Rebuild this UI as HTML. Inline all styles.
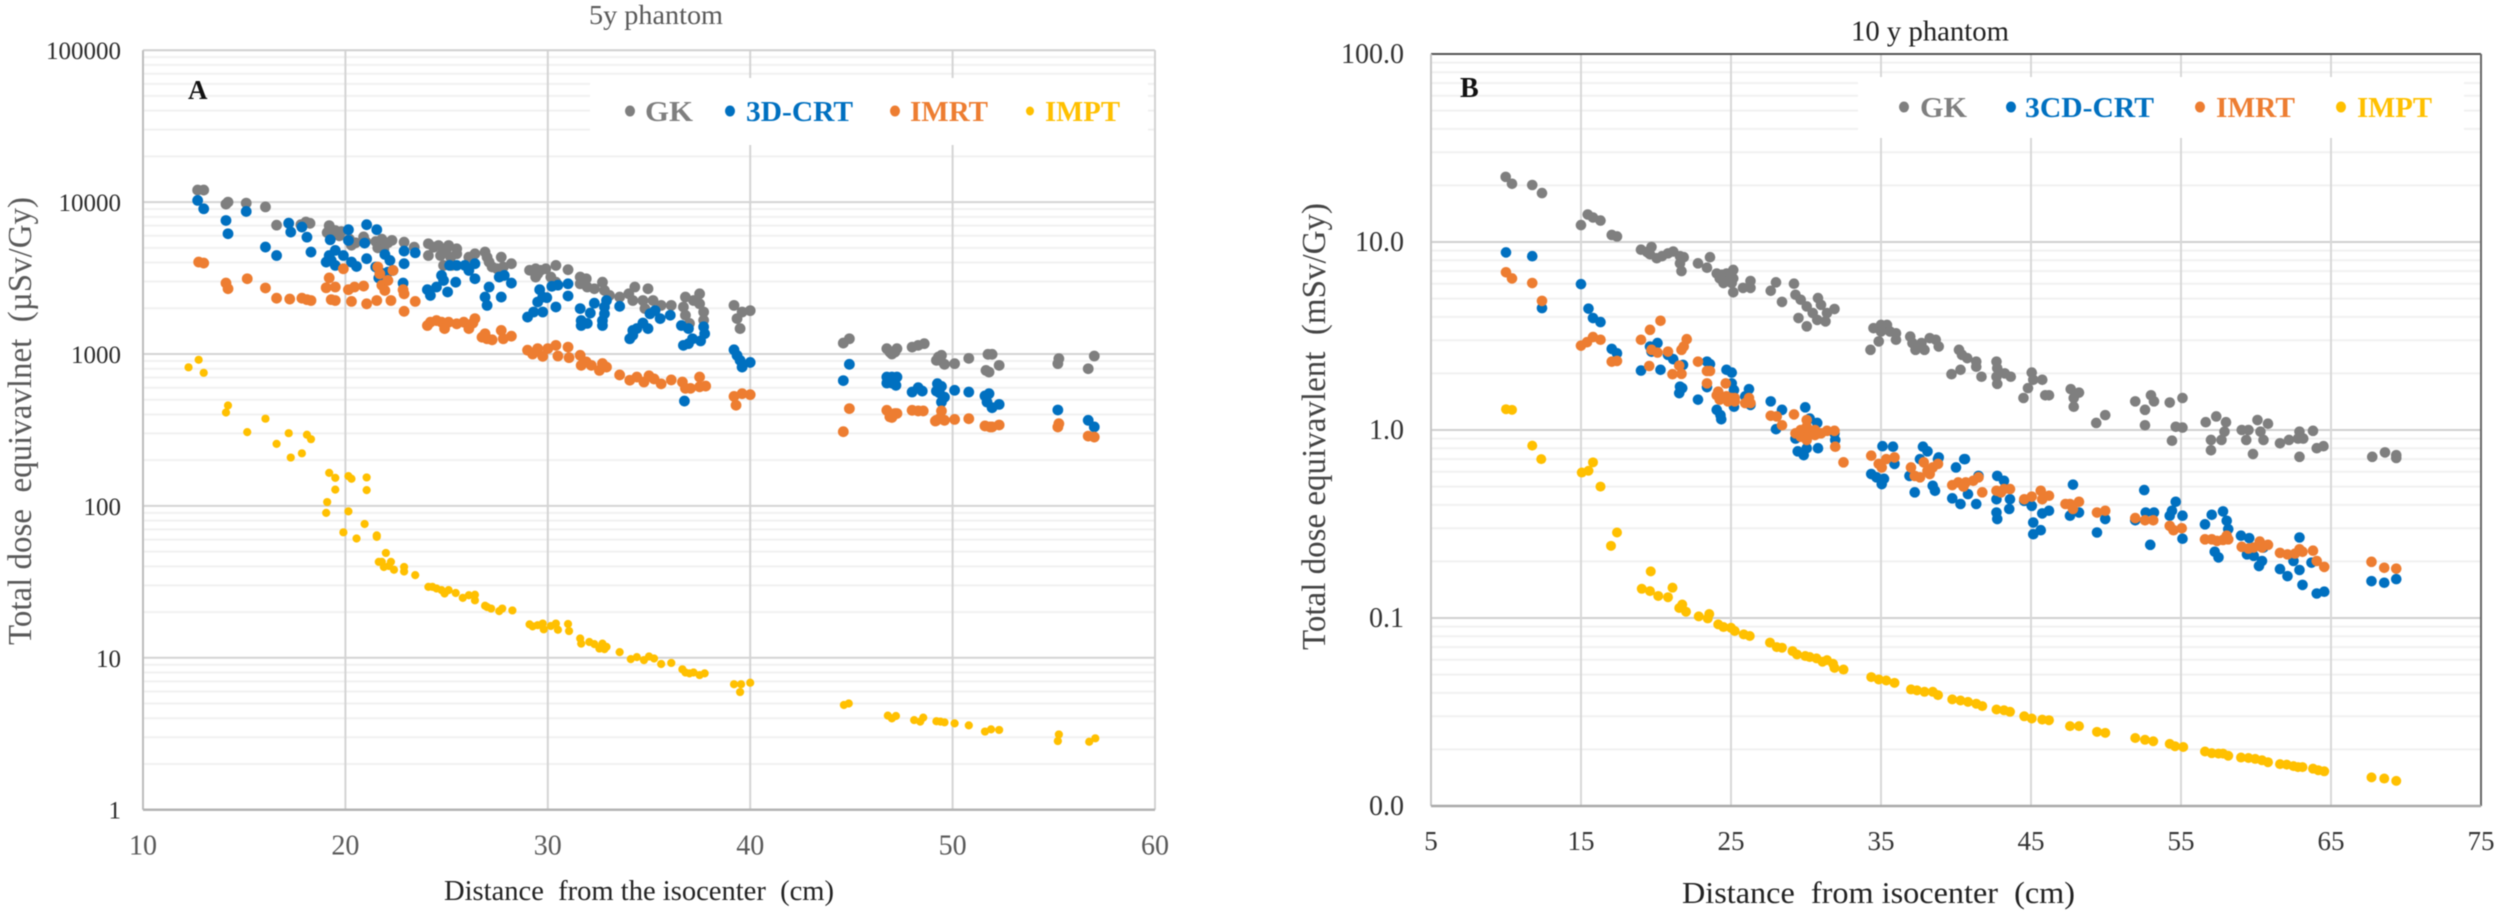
<!DOCTYPE html>
<html lang="en">
<head>
<meta charset="utf-8">
<title>Total dose equivalent vs distance from isocenter</title>
<style>
html,body{margin:0;padding:0;background:#fff;}
svg{display:block;filter:blur(0.45px);}
text{font-family:"Liberation Serif",serif;white-space:pre;}
</style>
</head>
<body>
<svg id="figure" xmlns="http://www.w3.org/2000/svg" width="2500" height="915" viewBox="0 0 2500 915">
  <rect width="2500" height="915" fill="#fff"/>

  <g id="chart-a">
    <g id="a-grid"></g>
    <rect x="590" y="78" width="558" height="67" fill="#fff"/>
    <g id="a-axes"></g>
    <g id="a-marks"></g>
    <text x="589" y="24" font-size="27" fill="#595959" textLength="134" lengthAdjust="spacingAndGlyphs">5y phantom</text>
    <text x="188" y="99" font-size="27" font-weight="bold" fill="#111">A</text>
    <text transform="translate(31,645) rotate(-90)" font-size="34" fill="#595959" textLength="448" lengthAdjust="spacingAndGlyphs">Total dose  equivavlnet  (µSv/Gy)</text>
    <text x="444" y="900" font-size="29" fill="#222" textLength="390" lengthAdjust="spacingAndGlyphs">Distance  from the isocenter  (cm)</text>
    <g font-size="29" font-weight="bold">
      <g><ellipse cx="630" cy="111" rx="5" ry="5.5" fill="#7f7f7f"/><text x="645" y="121" fill="#7f7f7f" textLength="48" lengthAdjust="spacingAndGlyphs">GK</text></g>
      <g><ellipse cx="730" cy="111" rx="5" ry="5.5" fill="#0070c0"/><text x="746" y="121" fill="#0070c0" textLength="107" lengthAdjust="spacingAndGlyphs">3D-CRT</text></g>
      <g><ellipse cx="895" cy="111" rx="5" ry="5.5" fill="#ed7d31"/><text x="910" y="121" fill="#ed7d31" textLength="78" lengthAdjust="spacingAndGlyphs">IMRT</text></g>
      <g><ellipse cx="1030" cy="111" rx="4" ry="4.5" fill="#ffc000"/><text x="1045" y="121" fill="#ffc000" textLength="75" lengthAdjust="spacingAndGlyphs">IMPT</text></g>
    </g>
  </g>

  <g id="chart-b">
    <g id="b-grid"></g>
    <rect x="1858" y="77" width="606" height="61" fill="#fff"/>
    <g id="b-axes"></g>
    <g id="b-marks"></g>
    <text x="1851" y="40.5" font-size="29" fill="#222" textLength="158" lengthAdjust="spacingAndGlyphs">10 y phantom</text>
    <text x="1460" y="97" font-size="28" font-weight="bold" fill="#111">B</text>
    <text transform="translate(1325,650) rotate(-90)" font-size="34" fill="#444" textLength="447" lengthAdjust="spacingAndGlyphs">Total dose equivavlent  (mSv/Gy)</text>
    <text x="1682" y="903" font-size="31" fill="#222" textLength="393" lengthAdjust="spacingAndGlyphs">Distance  from isocenter  (cm)</text>
    <g font-size="29" font-weight="bold">
      <g><ellipse cx="1904" cy="107" rx="5" ry="5.5" fill="#7f7f7f"/><text x="1920" y="117" fill="#7f7f7f" textLength="47" lengthAdjust="spacingAndGlyphs">GK</text></g>
      <g><ellipse cx="2011" cy="107" rx="5" ry="5.5" fill="#0070c0"/><text x="2025" y="117" fill="#0070c0" textLength="129" lengthAdjust="spacingAndGlyphs">3CD-CRT</text></g>
      <g><ellipse cx="2200" cy="107" rx="5" ry="5.5" fill="#ed7d31"/><text x="2216" y="117" fill="#ed7d31" textLength="79" lengthAdjust="spacingAndGlyphs">IMRT</text></g>
      <g><ellipse cx="2341" cy="107" rx="5" ry="5.5" fill="#ffc000"/><text x="2357" y="117" fill="#ffc000" textLength="75" lengthAdjust="spacingAndGlyphs">IMPT</text></g>
    </g>
  </g>
</svg>

<script>
/* ---------- tick data ---------- */
const minorMultipliers = [2,3,4,5,6,7,8,9];
const aXTicks = [10,20,30,40,50,60];
const aYTicks = [1,10,100,1000,10000,100000];
const aYTickLabels = ["1","10","100","1000","10000","100000"];
const bXTicks = [5,15,25,35,45,55,65,75];
const bYTicks = [0.01,0.1,1,10,100];
const bYTickLabels = ["0.0","0.1","1.0","10.0","100.0"];

/* ---------- panel A (5y phantom): distance in cm, dose in uSv/Gy ---------- */
const aGkX = [12.7,13,14.1,14.2,15.1,16.05,16.6,17.2,17.8,18.05,18.25,19.1,19.2,19.3,19.4,19.5,19.6,19.7,19.8,20.2,20.3,20.5,20.9,21,21.5,21.6,21.8,21.9,22.1,22.3,22.9,23.4,24.1,24.1,24.36,24.6,25,25.1,24.7,24.85,25.5,25.2,25.5,24.85,25.25,26.1,26.4,26.9,27,27.1,27.25,27.7,27.8,28.2,27.5,29.1,29.4,29.4,29.65,29.9,29.5,30.4,30.15,30.4,31,31.6,31.6,31.9,31.95,32.3,32.7,32.8,33.05,33.55,34,34.3,34.2,34.95,34.7,34.8,35.2,35.6,36.1,36.8,36.7,36.8,37,37.5,37.5,37.7,37.7,37.2,39.2,39.35,39.5,39.6,40,44.6,44.9,46.75,46.9,47,47.25,47.15,48,48.3,48.6,49.3,49.4,49.6,49.2,49.45,50.1,50.8,51.65,51.8,51.75,51.95,52.3,55.2,55.25,56.7,57];
const aGkY = [12000,12000,9700,10000,9850,9300,7050,7250,7100,7400,7250,6300,7000,6600,6100,6500,6250,6000,6400,5700,5200,5400,5900,5500,5500,5000,5700,4900,5400,5600,5450,5050,5320,4450,5050,5180,4930,5180,4450,4690,4930,4340,4570,3830,3830,4340,4570,4690,4340,4030,3740,4340,3740,3930,3640,3560,3640,3210,3560,3640,3370,3830,3210,2970,3590,3210,2900,3130,2760,2690,2970,2620,2430,2370,2490,2760,2250,2690,2250,1990,2250,2090,2090,2370,2040,1800,1590,2490,2140,1890,1670,2250,2090,1710,1470,1890,1930,1180,1260,1084,1030,1000,1084,1030,1110,1140,1170,955,908,855,908,980,864,936,780,760,995,995,842,864,932,800,970];

const aCrtX = [12.7,13,14.1,14.2,15.1,16.05,16.6,17.2,17.3,17.85,18.1,18.3,19.05,19.2,19.5,19.25,19.3,19.9,19.5,20.3,20.55,20.15,20.15,21.05,20.95,21.05,21.55,21.5,21.65,21.7,21.95,22.2,22.35,22.1,22.85,22.9,22.9,23.45,24.05,24.2,24.5,24.75,24.85,25.05,25.15,25.5,25.45,25.9,26.1,26.4,26.4,26.9,27,27.1,27.6,27.85,27.7,28.2,29,29.3,29.5,29.75,29.75,29.6,29.95,30.2,30.5,30.4,31,31,31.6,31.65,31.65,31.95,32.1,32.3,32.7,32.7,32.8,32.9,32.8,33.55,34.05,34.2,34.4,34.7,34.95,34.2,35.05,35.3,35.55,36.05,36.6,36.7,36.95,36.95,37.15,37.55,37.7,37.75,36.75,39.2,39.35,39.5,39.6,40,44.9,44.6,46.75,47,47.25,46.75,47,47.2,48,48.3,48.5,49.25,49.45,49.2,49.35,49.6,49.45,50.1,50.8,51.6,51.8,51.7,51.95,52.3,55.2,56.7,57];
const aCrtY = [10260,9040,7570,6190,8680,5060,4450,7270,6350,6850,5880,4690,4030,4450,4810,5650,4130,4450,3830,4030,3770,6580,5590,7100,5370,4240,6580,3740,3170,3460,4520,4130,3550,3460,2930,4760,3930,4640,2650,2430,2760,3290,3050,2560,3830,3830,2970,3830,3550,3930,3130,2370,2090,2760,3210,3290,2370,2930,1750,1890,2200,2370,1890,2650,2350,2790,2840,2040,2900,2410,1990,1660,1540,1590,1860,2160,1660,1540,1840,2250,2040,2060,1260,1430,1470,1600,1470,1330,1840,1930,1710,1800,1540,1140,1170,1470,1260,1220,1510,1360,490,1066,979,908,820,880,855,668,705,705,705,644,644,622,562,600,570,638,612,570,555,520,483,577,562,530,548,483,443,466,428,366,331];

const aImrtX = [12.75,13,14.1,14.2,15.15,16.05,16.6,17.25,17.85,18.1,18.3,19.05,19.2,19.3,19.5,19.5,19.9,20.15,20.3,20.45,20.9,21.05,21.55,21.6,21.7,22.35,21.8,21.95,22.1,22.25,22.85,22.9,22.9,23.45,24.05,24.2,24.5,24.75,24.9,25.1,25.5,25.85,26.1,26.4,26.3,26.9,27,27.25,27.7,27.8,28.2,26.75,29,29.25,29.5,29.75,30,30.4,30.5,31,31.05,31.6,31.65,31.9,32.15,32.55,32.7,32.9,33.55,34.05,34.4,34.75,35,35.25,35.6,36.1,36.65,36.8,37.05,37.5,37.5,37.8,39.2,39.3,39.6,40,44.9,44.6,46.75,46.9,47.15,47,47.25,48,48.3,48.55,49.45,49.2,49.35,49.6,49.15,50.1,50.8,51.6,51.85,51.95,52.3,55.2,55.25,56.7,57];
const aImrtY = [4030,3970,2930,2690,3130,2720,2330,2300,2330,2280,2250,2730,3170,2280,2760,2250,3640,2650,2220,2760,2800,2140,2250,3740,3370,3550,2840,2620,3050,2250,2650,2490,1910,2220,1540,1620,1660,1620,1470,1620,1580,1620,1470,1710,1600,1360,1260,1240,1430,1260,1310,1290,1060,1000,1085,965,1085,1140,970,1110,946,980,842,887,842,780,865,820,728,672,705,654,719,685,636,675,654,594,594,705,608,615,526,460,548,540,437,308,426,386,406,382,406,426,422,422,422,366,375,366,362,371,375,336,331,331,341,331,348,288,284];

const aImptX = [12.25,12.75,13,14.2,14.1,15.15,16.05,16.6,17.2,18.1,18.3,17.85,17.3,19.2,19.5,19.5,19.1,19.05,20.15,20.3,21.05,21.05,20.15,20.95,19.9,20.55,21.55,21.55,22,21.65,21.8,22.25,21.9,22.15,22.4,22.9,22.9,23.45,24.1,24.3,24.5,24.75,24.9,25.1,25.45,25.8,26.1,26.4,26.4,26.9,27,27.2,27.6,27.75,28.25,29.1,29.25,29.5,29.75,29.8,30.15,30.4,30.5,31,31.05,31.6,31.65,32.05,32.3,32.55,32.7,32.9,32.8,33.55,34.1,34.4,34.75,35,35.25,35.6,36.1,36.65,36.8,37,37.2,37.5,37.75,39.2,39.5,39.55,40,44.63,44.87,46.8,47,47.2,48.1,48.4,48.55,49.2,49.4,49.6,50.1,50.8,51.6,51.9,52.3,55.25,55.2,56.75,57.05];
const aImptY = [817,916,752,458,412,306,375,256,301,294,275,222,208,165,153,128,106,90,157,151,154,127,92,76,67,61,64,62.5,49,42.8,42.8,42.8,39.6,40.2,38,39.6,37,35,29.3,29.3,28.6,27.9,26.5,27.9,26.7,24.8,25.8,26,23.9,22,21.6,21.1,20.3,21.1,20.5,16.6,16.1,16.4,16.8,15.4,16.2,16.8,15.3,16.7,15,13.4,12.4,12.7,12.3,11.5,12.4,11.8,11.4,10.9,9.8,10.1,9.65,10.2,9.9,9.1,9.25,8.4,8,7.9,8,7.7,7.9,6.7,5.95,6.7,6.85,4.89,5,4.16,3.99,4.14,3.89,3.8,4.04,3.82,3.8,3.76,3.7,3.59,3.27,3.38,3.35,3.13,2.83,2.8,2.95];

/* ---------- panel B (10 y phantom): distance in cm, dose in mSv/Gy ---------- */
const bGkX = [9.98,10.4,11.75,12.4,15,15.45,15.8,16.3,17.05,17.4,19,19.4,19.7,19.6,20.05,20.4,20.8,21.15,21.6,21.85,21.6,21.7,22.8,23.4,23.6,24.05,24.4,24.7,25.15,24.5,24.8,25.15,24.25,25.15,25.05,25.8,26.3,26.3,27.65,28,28.4,29.2,29.3,29.65,29.5,30.05,30.05,30.45,30.75,30.8,31.3,31.4,31.9,31,34.3,34.85,34.5,35,35.4,35,35.6,36,36,36.95,37.3,37.1,37.9,38.25,38.65,38.85,37.7,40.2,40.4,40.75,41.35,41.35,39.7,40.3,41.7,42.7,42.75,42.7,42.75,43.25,43.65,45.05,45.15,45.75,44.8,44.5,45.95,46.2,47.65,48.2,47.85,47.85,49.35,49.95,51.95,52.6,53,53.2,54.25,55.1,52.6,54.65,55.1,54.4,56.65,57.35,58,57.9,57,57.7,57,59.05,59.5,59.35,60.1,60.3,60.5,60.8,59.8,61.6,62.2,62.8,63.15,62.9,63.8,64.05,64.5,62.9,67.75,68.6,69.35,69.35];
const bGkY = [22.2,20.4,20.1,18.2,12.3,14,13.5,13,10.9,10.7,9.1,8.85,9.4,8.6,8.2,8.4,8.7,8.9,8.4,8.3,7.7,7,7.7,7.3,8.3,6.8,6.7,6.8,7.1,6.05,6.2,5.4,6.4,6.4,6.05,5.7,5.7,6.2,5.5,6.1,4.8,6,5.24,4.93,3.94,3.56,4.54,4.19,3.85,5.03,3.78,4.19,4.4,4.63,2.67,2.96,3.48,3.62,3.62,3.34,3.34,3.27,3.02,3.14,2.67,2.9,2.67,3.08,3.02,2.78,2.9,2.67,2.51,2.41,2.31,2.17,1.98,2.09,1.92,2.31,2.13,1.92,1.76,2,1.92,2.02,1.85,1.85,1.67,1.48,1.53,1.53,1.65,1.58,1.48,1.33,1.09,1.2,1.42,1.28,1.53,1.42,1.4,1.48,1.06,1.04,1.03,0.877,1.1,1.18,1.1,0.98,0.885,0.885,0.78,1,1,0.885,1.13,0.98,0.885,1.08,0.745,0.85,0.885,0.9,0.9,0.98,0.99,0.8,0.82,0.72,0.72,0.76,0.735,0.71];

const bCrtX = [10,11.75,12.4,15,15.5,15.8,16.3,17.05,17.4,19,19.6,20.1,19.7,20.3,20.8,21.15,21.8,21.6,21.75,21.55,22.8,23.4,23.6,23.4,24.05,24.3,24.35,24.7,25.05,25.05,25.2,25.2,26.2,25.95,26.3,27.65,28.4,28,29.95,30.25,30.75,29.45,29.85,30.05,30.8,31.95,31.9,29.3,35.1,35.8,37.8,38.1,38.85,40.55,34.35,34.7,35.05,35.2,35.9,37.25,36.9,37.6,38.45,38.6,38.8,40,40.6,39.75,40.3,40.8,41.35,41.5,42.75,43.2,42.7,42.75,43.55,42.7,43.6,44.55,45.05,45.15,45.15,45.65,45.75,46.2,47.6,47.8,48.2,49.4,49.95,51.95,52.55,52.65,53.2,52.95,54.25,54.4,54.65,55.1,55.1,56.6,57.05,57.8,58.05,58.15,57.25,57.5,59,59.55,59.4,59.85,60.2,60.4,60.5,61.6,62.1,62.5,62.9,62.9,63.1,63.7,64.05,64.55,67.7,68.55,69.35];
const bCrtY = [8.8,8.4,4.45,5.97,4.42,3.94,3.75,2.7,2.56,2.07,2.78,2.9,2.61,2.09,2.51,2.38,2.22,1.7,1.67,1.57,1.45,2.31,2.24,1.69,1.28,1.2,1.14,2.09,2.02,1.77,1.63,1.33,1.65,1.51,1.36,1.42,1.28,1.01,1.32,1.15,1.09,0.77,0.735,0.8,0.8,0.885,0.96,0.9,0.82,0.815,0.815,0.77,0.715,0.7,0.583,0.56,0.515,0.55,0.66,0.466,0.57,0.7,0.505,0.475,0.7,0.632,0.7,0.433,0.404,0.456,0.404,0.57,0.57,0.537,0.364,0.336,0.38,0.428,0.428,0.42,0.395,0.322,0.279,0.293,0.36,0.372,0.35,0.512,0.364,0.285,0.336,0.331,0.479,0.364,0.364,0.245,0.35,0.372,0.415,0.35,0.264,0.315,0.354,0.369,0.329,0.297,0.225,0.21,0.274,0.266,0.218,0.214,0.189,0.201,0.237,0.182,0.167,0.201,0.268,0.18,0.15,0.197,0.135,0.138,0.157,0.154,0.161];

const bImrtX = [10,10.4,11.75,12.4,15,15.4,15.8,16.3,17.05,17.4,19,19.6,20.3,19.55,19.7,20.1,20.8,21.1,21.55,21.7,21.7,21.85,22.05,22.8,23.4,23.6,23.4,24.65,24.05,24.15,24.4,24.7,25.05,25.25,24.25,24.8,25.25,25.95,26.3,26.2,27.65,28.05,28.4,29.2,29.3,29.65,30.05,30.05,30.25,30.6,31,31.4,31.9,29.65,30.05,30.6,31.95,32.5,34.35,34.85,35.05,35.35,35.9,37,37.25,37.6,37.85,38.1,38.45,38.8,38.25,39.75,40.15,40.65,41.15,41.5,41.75,40.5,42.7,43.2,43.6,43,44.55,45.05,45.65,46.2,45.75,47.6,48.2,47.8,47.3,49.4,49.95,51.95,52.6,53.15,54.25,54.5,55.05,56.6,57.05,57.4,57.8,58.15,58.05,59.05,59.5,59.85,60.25,60.4,60.8,61.6,62.1,62.6,62.9,63.1,63.8,64.05,64.55,67.7,68.55,69.35];
const bImrtY = [6.9,6.4,6.05,4.86,2.81,2.93,3.12,3.02,2.31,2.33,3.02,3.41,3.81,2.19,2.67,2.58,2.61,1.98,2.2,1.99,2.67,2.78,3.04,2.31,2.06,2.06,1.77,1.77,1.53,1.6,1.48,1.51,1.48,1.48,1.45,1.42,1.42,1.39,1.39,1.48,1.19,1.18,1.06,1.21,0.96,1,1.13,1.04,0.96,1,0.96,0.99,0.99,0.92,0.885,0.94,0.815,0.673,0.73,0.66,0.632,0.7,0.715,0.632,0.57,0.56,0.673,0.607,0.632,0.66,0.583,0.509,0.526,0.526,0.537,0.56,0.466,0.5,0.475,0.485,0.485,0.466,0.428,0.442,0.475,0.447,0.428,0.404,0.415,0.38,0.404,0.364,0.372,0.34,0.331,0.331,0.309,0.293,0.3,0.262,0.262,0.257,0.26,0.262,0.274,0.239,0.234,0.237,0.255,0.237,0.245,0.222,0.218,0.22,0.232,0.225,0.228,0.201,0.187,0.199,0.185,0.183];

const bImptX = [10,10.4,11.75,12.35,15.05,15.5,15.8,16.3,17.4,17,19.65,19.05,19.6,20.15,20.8,21.1,21.75,21.55,22,22.85,23.45,23.55,24.15,24.5,25,25.25,25.85,26.25,27.6,28.05,28.4,29.1,29.4,29.95,30.25,30.7,31.1,31.4,31.8,31.9,32.5,34.35,34.85,35.35,35.9,37,37.4,37.9,38.45,38.8,39.75,40.3,40.8,41.35,41.75,42.7,43.2,43.6,44.55,45.05,45.75,46.2,47.6,48.2,49.4,49.95,51.95,52.6,53.15,54.25,54.6,55.15,56.6,57.05,57.5,57.8,58.15,59,59.5,59.95,60.4,60.8,61.6,62.05,62.5,62.8,63.1,63.8,64.15,64.55,67.7,68.55,69.35];
const bImptY = [1.29,1.28,0.826,0.7,0.594,0.607,0.673,0.5,0.285,0.242,0.177,0.143,0.139,0.131,0.129,0.145,0.118,0.113,0.108,0.102,0.0995,0.105,0.0925,0.0895,0.0887,0.0853,0.0818,0.0802,0.074,0.07,0.0695,0.0667,0.064,0.0628,0.062,0.061,0.0585,0.0597,0.0571,0.0543,0.0532,0.0485,0.0471,0.0465,0.0452,0.0417,0.0412,0.0405,0.0405,0.0389,0.0369,0.0364,0.0358,0.035,0.034,0.0326,0.0323,0.0317,0.03,0.0292,0.0288,0.0286,0.0266,0.0266,0.0248,0.0245,0.023,0.0225,0.0221,0.0214,0.0208,0.0206,0.0195,0.0191,0.019,0.019,0.0185,0.0181,0.018,0.0178,0.0175,0.0171,0.0167,0.0166,0.0163,0.0161,0.0161,0.0158,0.0155,0.0153,0.0142,0.014,0.0136];

/* ---------- axis functions ---------- */
const SVG_NS = "http://www.w3.org/2000/svg";
function aScaleX(d){ return 143 + (d - 10) * 20.24; }
function aScaleY(v){ return 809.7 - 151.9 * Math.log10(v); }
function bScaleX(d){ return 1431 + (d - 5) * 15; }
function bScaleY(v){ return 430 - 188 * Math.log10(v); }

function makeLine(x1, y1, x2, y2, color, width){
  const line = document.createElementNS(SVG_NS, "line");
  line.setAttribute("x1", x1);
  line.setAttribute("y1", y1);
  line.setAttribute("x2", x2);
  line.setAttribute("y2", y2);
  line.setAttribute("stroke", color);
  line.setAttribute("stroke-width", width);
  return line;
}

function drawGrid(layer, xTicks, yTicks, sx, sy, style){
  const left = sx(xTicks[0]);
  const right = sx(xTicks[xTicks.length - 1]);
  const top = sy(yTicks[yTicks.length - 1]);
  const bottom = sy(yTicks[0]);
  yTicks.slice(0, -1).forEach(function(decade){
    minorMultipliers.forEach(function(m){
      const y = sy(decade * m);
      const minor = makeLine(left, y, right, y, "#f1f1f1", 2);
      
      
      layer.appendChild(minor);
    });
  });
  yTicks.slice(1, -1).forEach(function(v){
    const major = makeLine(left, sy(v), right, sy(v), style.majorH, 2);
    
    
    layer.appendChild(major);
  });
  xTicks.slice(1, -1).forEach(function(d){
    const vert = makeLine(sx(d), top, sx(d), bottom, style.majorV, 2);
    
    
    layer.appendChild(vert);
  });
}

function drawAxes(layer, xTicks, yTicks, yLabels, sx, sy, style){
  const left = sx(xTicks[0]);
  const right = sx(xTicks[xTicks.length - 1]);
  const top = sy(yTicks[yTicks.length - 1]);
  const bottom = sy(yTicks[0]);

  const topLine = makeLine(left, top, right, top, style.top, 2);
  
  
  layer.appendChild(topLine);

  const rightLine = makeLine(right, top, right, bottom, style.right, 2);
  
  
  layer.appendChild(rightLine);

  const leftLine = makeLine(left, top, left, bottom, style.left, 2);
  
  
  layer.appendChild(leftLine);

  const bottomLine = makeLine(left, bottom, right, bottom, style.bottom, 2.5);
  
  
  layer.appendChild(bottomLine);

  xTicks.forEach(function(d){
    const t = document.createElementNS(SVG_NS, "text");
    
    
    t.setAttribute("x", sx(d));
    t.setAttribute("y", bottom + style.xLabelDy);
    t.setAttribute("text-anchor", "middle");
    t.setAttribute("font-size", style.xFont);
    t.setAttribute("fill", style.xColor);
    t.textContent = String(d);
    layer.appendChild(t);
  });

  yTicks.forEach(function(v, i){
    const t = document.createElementNS(SVG_NS, "text");
    
    
    t.setAttribute("x", left - style.yLabelGap);
    t.setAttribute("y", sy(v) + 9);
    t.setAttribute("text-anchor", "end");
    t.setAttribute("font-size", style.yFont);
    t.setAttribute("fill", style.yColor);
    t.textContent = yLabels[i];
    layer.appendChild(t);
  });
}

function drawSeries(layer, name, xs, ys, sx, sy, color, r){
  xs.forEach(function(d, i){
    const c = document.createElementNS(SVG_NS, "circle");
    
    
    c.setAttribute("cx", sx(d));
    c.setAttribute("cy", sy(ys[i]));
    c.setAttribute("r", r);
    c.setAttribute("fill", color);
    layer.appendChild(c);
  });
}

/* ---------- render panel A ---------- */
const aStyle = {majorH:"#d4d4d4",majorV:"#d4d4d4",top:"#d0d0d0",right:"#d2d2d2",left:"#bdbdbd",bottom:"#b4b4b4",xLabelDy:45,xFont:28,xColor:"#595959",yLabelGap:22,yFont:25,yColor:"#2b2b2b"};
drawGrid(document.getElementById("a-grid"), aXTicks, aYTicks, aScaleX, aScaleY, aStyle);
drawAxes(document.getElementById("a-axes"), aXTicks, aYTicks, aYTickLabels, aScaleX, aScaleY, aStyle);
const aMarks = document.getElementById("a-marks");
drawSeries(aMarks, "gk", aGkX, aGkY, aScaleX, aScaleY, "#7f7f7f", 5.4);
drawSeries(aMarks, "3d-crt", aCrtX, aCrtY, aScaleX, aScaleY, "#0070c0", 5.4);
drawSeries(aMarks, "imrt", aImrtX, aImrtY, aScaleX, aScaleY, "#ed7d31", 5.4);
drawSeries(aMarks, "impt", aImptX, aImptY, aScaleX, aScaleY, "#ffc000", 4.1);

/* ---------- render panel B ---------- */
const bStyle = {majorH:"#d0d0d0",majorV:"#d8d8d8",top:"#555555",right:"#666666",left:"#c6c6c6",bottom:"#aaaaaa",xLabelDy:44,xFont:27,xColor:"#333333",yLabelGap:27,yFont:28,yColor:"#333333"};
drawGrid(document.getElementById("b-grid"), bXTicks, bYTicks, bScaleX, bScaleY, bStyle);
drawAxes(document.getElementById("b-axes"), bXTicks, bYTicks, bYTickLabels, bScaleX, bScaleY, bStyle);
const bMarks = document.getElementById("b-marks");
drawSeries(bMarks, "gk", bGkX, bGkY, bScaleX, bScaleY, "#7f7f7f", 5.3);
drawSeries(bMarks, "3cd-crt", bCrtX, bCrtY, bScaleX, bScaleY, "#0070c0", 5.3);
drawSeries(bMarks, "imrt", bImrtX, bImrtY, bScaleX, bScaleY, "#ed7d31", 5.3);
drawSeries(bMarks, "impt", bImptX, bImptY, bScaleX, bScaleY, "#ffc000", 5);
</script>
</body>
</html>
